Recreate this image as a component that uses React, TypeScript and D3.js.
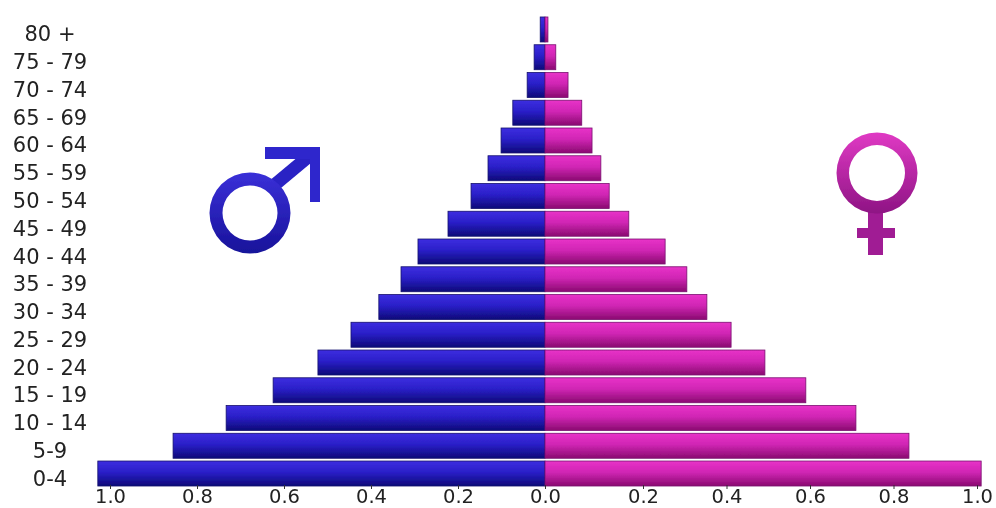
import React, { useRef, useEffect } from 'react';
import * as d3 from 'd3';

const ageGroups = [
	'80 +', '75 - 79', '70 - 74', '65 - 69', '60 - 64', '55 - 59', '50 - 54', '45 - 49', '40 - 44',
	'35 - 39', '30 - 34', '25 - 29', '20 - 24', '15 - 19', '10 - 14', '5-9', '0-4',
];
const maleValues = [
	0.011, 0.025, 0.041, 0.074, 0.101, 0.131, 0.17, 0.223, 0.292, 0.331, 0.382, 0.446, 0.522, 0.625,
	0.733, 0.855, 1.028,
];
const femaleValues = [
	0.006, 0.022, 0.047, 0.075, 0.096, 0.114, 0.131, 0.171, 0.253, 0.305, 0.353, 0.411, 0.492, 0.59,
	0.71, 0.837, 1.01,
];
const leftTicks = [1, 0.8, 0.6, 0.4, 0.2];
const rightTicks = [0, 0.2, 0.4, 0.6, 0.8, 1];

const App: React.FC = () => {
	const svgRef = useRef<SVGSVGElement | null>(null);

	useEffect(() => {
		const svg = d3.select(svgRef.current);
		svg.selectAll('*').remove();

		const width = 996;
		const height = 508;
		const font = '"DejaVu Sans", sans-serif';

		const defs = svg.append('defs');
		const addGradient = (id: string, stops: [string, string][]) => {
			const grad = defs
				.append('linearGradient')
				.attr('id', id)
				.attr('x1', 0)
				.attr('y1', 0)
				.attr('x2', 0)
				.attr('y2', 1);
			stops.forEach(([o, c]) => grad.append('stop').attr('offset', o).attr('stop-color', c));
		};
		addGradient('maleFill', [
			['0%', '#3d2ee0'],
			['45%', '#2a1fc8'],
			['100%', '#0d0a78'],
		]);
		addGradient('femaleFill', [
			['0%', '#e832c8'],
			['45%', '#d026b4'],
			['100%', '#8a0a70'],
		]);
		addGradient('maleSymbol', [
			['0%', '#3a30d8'],
			['100%', '#18129a'],
		]);
		addGradient('femaleSymbol', [
			['0%', '#e03ac4'],
			['100%', '#8e1484'],
		]);
		defs
			.append('filter')
			.attr('id', 'soft')
			.append('feGaussianBlur')
			.attr('stdDeviation', 0.55);

		const g = svg.append('g').attr('filter', 'url(#soft)');
		g.append('rect').attr('width', width).attr('height', height).attr('fill', '#fff');

		const xLeft = d3.scaleLinear().domain([0, 1]).range([545, 110]);
		// the right axis is not even in the picture: 0.0 to 0.2 is wider than the other steps
		const xRight = d3.scaleLinear().domain([0, 0.2, 1]).range([545, 643, 977]);
		const y = d3
			.scaleBand<string>()
			.domain(ageGroups)
			.range([15.6, 487.4])
			.paddingInner(0.1)
			.paddingOuter(0.05);

		g.append('g')
			.selectAll('rect')
			.data(maleValues)
			.join('rect')
			.attr('x', (d) => xLeft(d))
			.attr('y', (_, i) => y(ageGroups[i]) as number)
			.attr('width', (d) => xLeft(0) - xLeft(d))
			.attr('height', y.bandwidth())
			.attr('fill', 'url(#maleFill)')
			.attr('stroke', '#14106e')
			.attr('stroke-width', 0.8);

		g.append('g')
			.selectAll('rect')
			.data(femaleValues)
			.join('rect')
			.attr('x', xRight(0))
			.attr('y', (_, i) => y(ageGroups[i]) as number)
			.attr('width', (d) => xRight(d) - xRight(0))
			.attr('height', y.bandwidth())
			.attr('fill', 'url(#femaleFill)')
			.attr('stroke', '#7a1070')
			.attr('stroke-width', 0.8);

		// age labels
		g.append('g')
			.selectAll('text')
			.data(ageGroups)
			.join('text')
			.attr('x', 50)
			.attr('y', (d) => (y(d) as number) + y.bandwidth() / 2 + 12)
			.attr('text-anchor', 'middle')
			.attr('font-family', font)
			.attr('font-size', 21)
			.attr('fill', '#222')
			.text((d) => d);

		const styleAxis = (a: d3.Selection<SVGGElement, unknown, null, undefined>) => {
			a.select('.domain').remove();
			a.selectAll('line').attr('stroke', '#333');
			a.selectAll('text')
				.attr('font-family', font)
				.attr('font-size', 19.5)
				.attr('fill', '#222')
				.attr('dy', '0')
				.attr('y', 18);
		};

		g.append('g')
			.attr('transform', 'translate(0,485)')
			.call(d3.axisBottom(xLeft).tickValues(leftTicks).tickSize(4).tickFormat(d3.format('.1f')))
			.call(styleAxis);

		g.append('g')
			.attr('transform', 'translate(0,485)')
			.call(d3.axisBottom(xRight).tickValues(rightTicks).tickSize(4).tickFormat(d3.format('.1f')))
			.call(styleAxis);

		const ring = (inner: number, outer: number) =>
			d3.arc()({ innerRadius: inner, outerRadius: outer, startAngle: 0, endAngle: Math.PI * 2 } as any) as string;

		// male symbol
		g.append('path')
			.attr('d', 'M272,187 L314,152')
			.attr('stroke', '#2a22c4')
			.attr('stroke-width', 13)
			.attr('fill', 'none');
		g.append('path')
			.attr('d', 'M265,147 H320 V202 H310 V159 H265 Z')
			.attr('fill', '#2f27cc');
		g.append('path')
			.attr('d', ring(27.5, 40.5))
			.attr('transform', 'translate(250,213)')
			.attr('fill', 'url(#maleSymbol)');

		// female symbol
		g.append('path')
			.attr('d', 'M868,212 H883 V228 H895 V238 H883 V255 H868 V238 H857 V228 H868 Z')
			.attr('fill', '#a01c94');
		g.append('path')
			.attr('d', ring(28, 40.5))
			.attr('transform', 'translate(877,173)')
			.attr('fill', 'url(#femaleSymbol)');
	}, []);

	return (
		<svg
			ref={svgRef}
			width={996}
			height={508}
			style={{ position: 'absolute', left: 0, top: 0, display: 'block' }}
		/>
	);
};

export default App;
